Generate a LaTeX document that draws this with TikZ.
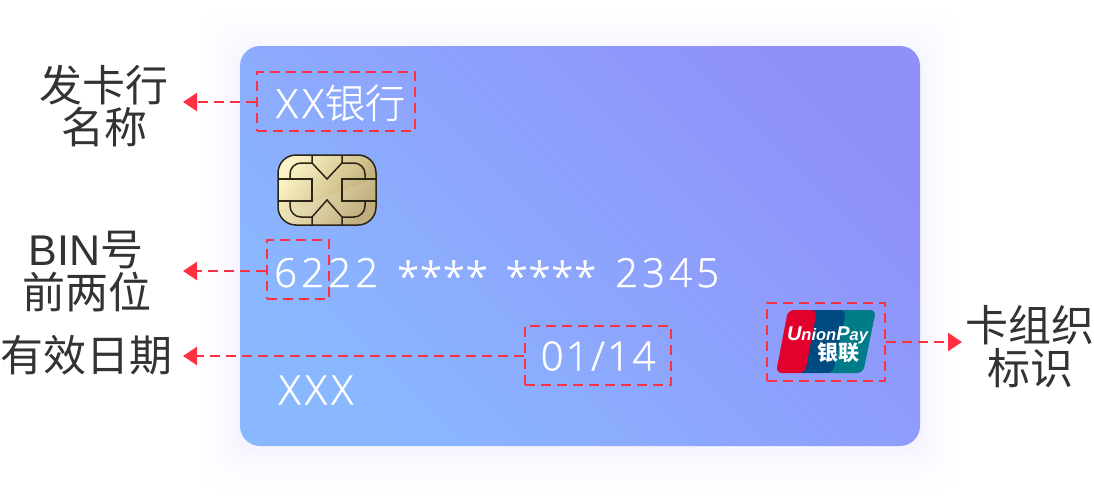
\documentclass[tikz,border=0pt]{standalone}
\usepackage{fontspec}
\usetikzlibrary{arrows.meta,calc}
\setmainfont{Liberation Sans}
\newfontfamily\cjkfont{Noto Sans CJK SC}
\newfontfamily\cjklight[UprightFeatures={FakeBold=0.6}]{Noto Sans CJK SC Light}
\newfontfamily\latfont[LetterSpace=10.5,UprightFeatures={FakeBold=1.2}]{Open Sans Light}
\newfontfamily\starfont[LetterSpace=2,UprightFeatures={FakeBold=1.2}]{Open Sans Light}
\newfontfamily\datefont[LetterSpace=6,UprightFeatures={FakeBold=1.2}]{Open Sans Light}
\newfontfamily\xxfont[LetterSpace=12,UprightFeatures={FakeBold=1.2}]{Open Sans Light}
\newfontfamily\logofont{Liberation Sans}
\definecolor{cardA}{HTML}{8AB8FF}
\definecolor{cardB}{HTML}{9090F9}
\definecolor{haloC}{HTML}{F5F4FF}
\definecolor{alarm}{HTML}{FF3040}
\definecolor{labelc}{HTML}{333333}
\definecolor{chipline}{HTML}{2A2515}
\definecolor{chipA}{HTML}{FBF3C6}
\definecolor{chipM}{HTML}{EEDFA8}
\definecolor{chipB}{HTML}{B8A46C}
\definecolor{upred}{HTML}{E2002D}
\definecolor{upblue}{HTML}{004A82}
\definecolor{upteal}{HTML}{007C88}
\tikzset{
  x=1pt,y=-1pt,
  hotbox/.style={draw=alarm,line width=2.5pt,dash pattern=on 10pt off 6pt,inner sep=0pt,fill=none},
  hotline/.style={draw=alarm,line width=2.5pt,dash pattern=on 10pt off 6pt,-{Triangle[length=14pt,width=18pt,fill=alarm]}},
  sidelabel/.style={text=labelc,font=\fontsize{43}{43}\selectfont\cjkfont,inner sep=0pt,anchor=center},
  cardtext/.style={text=white,inner sep=0pt,anchor=center},
  chipstroke/.style={draw=chipline,line width=1.5pt},
}
\begin{document}
\begin{tikzpicture}
\useasboundingbox (0,0) rectangle (1094,496);
\fill[white] (0,0) rectangle (1094,496);
% soft halo
\foreach \r in {44,40,...,4}{
  \pgfmathsetmacro\p{100*(1-\r/46)^1.5}
  \fill[color=haloC!\p!white,rounded corners=24pt] (240-\r,50-\r) rectangle (920+\r,450+\r);
}
% card
\shade[rounded corners=20pt,left color=cardA,right color=cardB,shading angle=135] (240,46) rectangle (920,446);
% chip
\shade[rounded corners=18pt,left color=chipA,middle color=chipM,right color=chipB,shading angle=55] (278,155) rectangle (376,225);
\begin{scope}
\clip[rounded corners=18pt] (278,155) rectangle (376,225);
\fill[white,opacity=0.12] (278,215) -- (376,178) -- (376,225) -- (278,225) -- cycle;
\end{scope}
\draw[chipstroke,rounded corners=18pt] (278,155) rectangle (376,225);
\draw[chipstroke] (278,179) -- (312,179) -- (312,201) -- (278,201);
\draw[chipstroke] (376,179) -- (342,179) -- (342,201) -- (376,201);
\draw[chipstroke] (312,155) -- (312,163) -- (327,179) -- (342,163) -- (342,155);
\draw[chipstroke] (312,225) -- (312,217) -- (327,200) -- (342,217) -- (342,225);
\draw[chipstroke,rounded corners=11pt] (312,163) -- (290,163) -- (290,179);
\draw[chipstroke,rounded corners=11pt] (342,163) -- (365,163) -- (365,179);
\draw[chipstroke,rounded corners=11pt] (290,201) -- (290,217) -- (312,217);
\draw[chipstroke,rounded corners=11pt] (365,201) -- (365,217) -- (342,217);
% union pay logo
\fill[upteal,rounded corners=6pt] (835,310) -- (876,310) -- (863,373) -- (822,373) -- cycle;
\fill[upblue,rounded corners=6pt] (807,310) -- (846,310) -- (833,373) -- (795,373) -- cycle;
\fill[upred,rounded corners=6pt] (788,310) -- (817,310) -- (805,373) -- (776,373) -- cycle;
\node[inner sep=0pt,text=white,font=\fontsize{16.5}{16.5}\selectfont\logofont\bfseries\itshape] (upay) at (827.5,335) {{\fontsize{20}{20}\selectfont U}nion{\fontsize{20}{20}\selectfont P}ay};
\node[inner sep=0pt,text=white,font=\fontsize{21}{21}\selectfont\cjkfont\bfseries] (uzh) at (838,353) {银联};
% card texts
\node[cardtext,anchor=base west] (bank) at (276,118) {\fontsize{40}{40}\selectfont\xxfont XX\hspace{1pt}{\fontsize{40}{40}\selectfont\cjklight 银行}};
\node[cardtext,anchor=base west] (num) at (274,287) {\fontsize{40}{40}\selectfont\latfont 6222\hspace{19pt}\raisebox{-4pt}{\starfont ****\hspace{18pt}****}\hspace{19pt}2345};
\node[cardtext,font=\fontsize{40}{40}\selectfont\datefont] (date) at (598,356) {01/14};
\node[cardtext,font=\fontsize{40}{40}\selectfont\xxfont] (holder) at (316,390) {XXX};
% dashed boxes
\node[hotbox,minimum width=158pt,minimum height=59pt] (bbank) at (336,101.5) {};
\node[hotbox,minimum width=62pt,minimum height=59pt] (bbin) at (298,269.5) {};
\node[hotbox,minimum width=146pt,minimum height=59pt] (bdate) at (598,355.5) {};
\node[hotbox,minimum width=118pt,minimum height=78pt] (blogo) at (826,342) {};
% free ends
\coordinate (tbank) at (183,102);
\coordinate (tbin) at (183,271);
\coordinate (tdate) at (183,356);
\coordinate (tlogo) at (962,342);
\draw[hotline] (bbank.west |- tbank) -- (tbank);
\draw[hotline] (bbin.west |- tbin) -- (tbin);
\draw[hotline] (bdate.west |- tdate) -- (tdate);
\draw[hotline] (blogo.east |- tlogo) -- (tlogo);
% side labels
\node[sidelabel] (l1) at (104,85) {发卡行};
\node[sidelabel] (l2) at (104,127) {名称};
\node[sidelabel] (l3) at (86,250) {{\logofont BIN}号};
\node[sidelabel] (l4) at (87,292) {前两位};
\node[sidelabel] (l5) at (86,355) {有效日期};
\node[sidelabel] (l6) at (1030,325) {卡组织};
\node[sidelabel] (l7) at (1030,368) {标识};
\end{tikzpicture}
\end{document}
